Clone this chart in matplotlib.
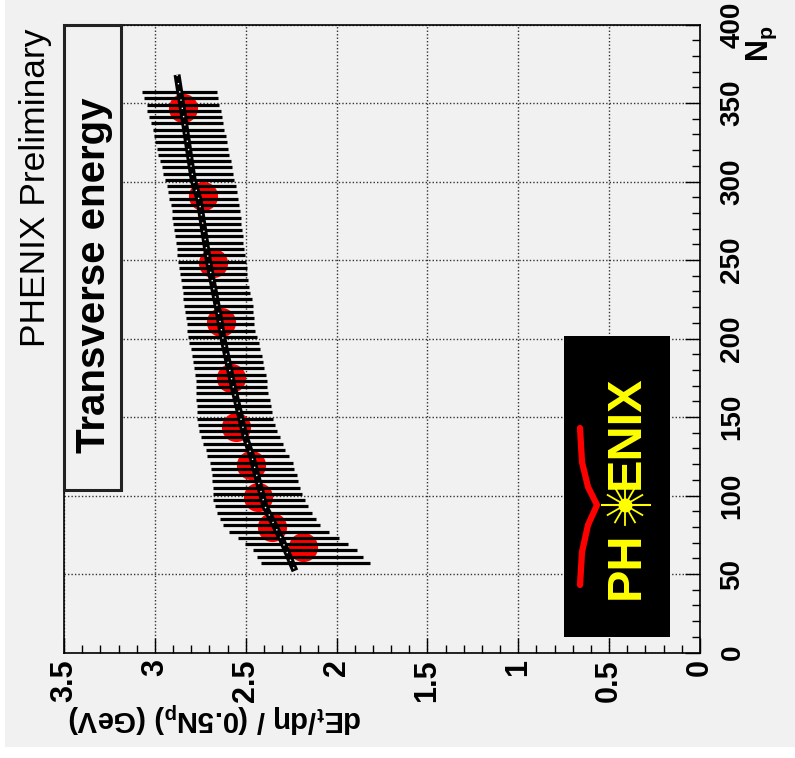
import matplotlib
matplotlib.use("Agg")
import matplotlib.pyplot as plt
from matplotlib.patches import Rectangle
from matplotlib.ticker import FixedLocator, MultipleLocator
import numpy as np

plt.rcParams['font.family'] = ['Liberation Sans', 'DejaVu Sans']
plt.rcParams['mathtext.fontset'] = 'custom'
plt.rcParams['mathtext.rm'] = 'Liberation Sans:bold'
plt.rcParams['mathtext.it'] = 'Liberation Sans:bold'
plt.rcParams['mathtext.bf'] = 'Liberation Sans:bold'
plt.rcParams['mathtext.default'] = 'regular'

# Dados ------------------------------------------

# pontos medidos (Np, dEt/deta / (0.5 Np))
np_pts = [346.6, 290.8, 247.9, 210.5, 174.6, 143.8, 119.4, 98.9, 79.7, 67.4]
et_pts = [2.844, 2.734, 2.679, 2.636, 2.583, 2.554, 2.471, 2.431, 2.357, 2.183]

# curva ajustada
fit_np = [368, 343, 301, 288, 250, 214, 201, 169, 138, 125, 93, 72, 52]
fit_et = [2.878, 2.844, 2.789, 2.756, 2.706, 2.646, 2.627, 2.568, 2.504, 2.467, 2.394, 2.302, 2.229]

# faixa de erro sistematico (linhas horizontais)
band_np = [357, 353, 349, 345, 341, 337, 333, 329, 325, 321,
           317, 313, 309, 305, 301, 297, 293, 289, 285, 281,
           277, 273, 269, 265, 261, 257, 253, 249, 245, 241,
           237, 233, 229, 225, 221, 217, 213, 209, 205, 201,
           197, 193, 189, 185, 181, 177, 173, 169, 165, 161,
           157, 153, 149, 145, 141, 137, 133, 129, 125, 121,
           117, 113, 109, 105, 101, 97, 93, 89, 85, 81,
           77, 73, 69, 65, 61, 57]
band_lo = [2.660, 2.653, 2.646, 2.638, 2.631, 2.624, 2.618, 2.610, 2.602, 2.596,
           2.591, 2.583, 2.577, 2.572, 2.565, 2.554, 2.546, 2.540, 2.535, 2.532,
           2.528, 2.526, 2.522, 2.517, 2.513, 2.510, 2.504, 2.499, 2.495, 2.491,
           2.486, 2.480, 2.477, 2.467, 2.462, 2.458, 2.455, 2.455, 2.449, 2.436,
           2.425, 2.422, 2.412, 2.407, 2.400, 2.389, 2.385, 2.381, 2.376, 2.367,
           2.363, 2.357, 2.348, 2.339, 2.326, 2.312, 2.293, 2.284, 2.260, 2.242,
           2.234, 2.220, 2.211, 2.201, 2.192, 2.174, 2.156, 2.137, 2.113, 2.091,
           2.040, 1.985, 1.936, 1.886, 1.853, 1.816]
band_hi = [3.073, 3.060, 3.045, 3.043, 3.032, 3.023, 3.012, 3.005, 2.999, 2.990,
           2.981, 2.972, 2.963, 2.954, 2.944, 2.935, 2.926, 2.921, 2.913, 2.908,
           2.906, 2.899, 2.895, 2.889, 2.884, 2.880, 2.877, 2.871, 2.866, 2.862,
           2.858, 2.853, 2.847, 2.844, 2.840, 2.834, 2.829, 2.825, 2.822, 2.816,
           2.811, 2.803, 2.797, 2.792, 2.785, 2.779, 2.774, 2.774, 2.774, 2.774,
           2.770, 2.770, 2.767, 2.761, 2.756, 2.748, 2.735, 2.719, 2.712, 2.697,
           2.693, 2.687, 2.687, 2.682, 2.682, 2.679, 2.669, 2.657, 2.642, 2.627,
           2.591, 2.541, 2.504, 2.462, 2.440, 2.418]

et_ticks = [0, 0.5, 1, 1.5, 2, 2.5, 3, 3.5]
et_labels = ['0', '0.5', '1', '1.5', '2', '2.5', '3', '3.5']
np_ticks = [0, 50, 100, 150, 200, 250, 300, 350, 400]
np_labels = ['0', '50', '100', '150', '200', '250', '300', '350', '400']

W, H = 795, 758
bg = '#f1f1f1'


def fx(px):
    return px / W


def fy(py):
    return 1 - py / H


# Figura ------------------------------------------

fig = plt.figure(figsize=(W / 100, H / 100), dpi=100, facecolor='white')
fig.patches.append(Rectangle((fx(5), fy(747)), 1, 1, transform=fig.transFigure,
                             facecolor=bg, edgecolor='none', zorder=-5))

ax = fig.add_axes([fx(64), fy(652.5), (700 - 64) / W, (652.5 - 24.5) / H], zorder=1)
ax.set_facecolor(bg)
ax.set_xlim(3.5, 0)
ax.set_ylim(0, 400)

ax.plot(et_pts, np_pts, 'o', color='red', markersize=21, markeredgewidth=0, zorder=2)
ax.hlines(band_np, band_lo, band_hi, color='black', linewidth=2.3, zorder=3)
ax.plot(fit_et, fit_np, color='black', linewidth=5, solid_capstyle='butt', zorder=4)
ax.plot(fit_et, fit_np, color='white', linewidth=1.0, linestyle=(0, (1, 5)), zorder=5)

# eixos
ax.xaxis.set_major_locator(FixedLocator(et_ticks))
ax.set_xticklabels(et_labels, rotation=90, fontsize=22, fontweight='bold')
ax.xaxis.set_minor_locator(MultipleLocator(0.1))
ax.yaxis.tick_right()
ax.yaxis.set_major_locator(FixedLocator(np_ticks))
ax.set_yticklabels(np_labels, rotation=90, fontsize=20, fontweight='bold', va='center')
ax.yaxis.set_minor_locator(MultipleLocator(10))
ax.tick_params(axis='x', which='both', direction='in', bottom=True, top=False, pad=5)
ax.tick_params(axis='y', which='both', direction='in', right=True, left=False, pad=14)
ax.tick_params(which='major', length=11, width=1)
ax.tick_params(which='minor', length=6, width=1)
ax.grid(True, which='major', color='#333333', linestyle=(0, (1, 1.5)), linewidth=1.0)
ax.set_axisbelow(True)
for s in ax.spines.values():
    s.set_linewidth(1.2)

# textos
fig.text(fx(68), fy(717), 'dE$_t$/dη / (0.5N$_p$) (GeV)', rotation=180,
         ha='left', va='center', fontsize=21, fontweight='bold')
fig.text(fx(762), fy(44), 'N$_p$', rotation=90, ha='center', va='center',
         fontsize=22, fontweight='bold')
fig.text(fx(36), fy(188), 'PHENIX Preliminary', rotation=90, ha='center',
         va='center', fontsize=25.5)
fig.patches.append(Rectangle((fx(64), fy(490)), (121 - 64) / W, (490 - 25) / H,
                             transform=fig.transFigure, facecolor=bg,
                             edgecolor='#222222', linewidth=2.2, zorder=2))
fig.text(fx(94), fy(275), 'Transverse energy', rotation=90, ha='center',
         va='center', fontsize=29, fontweight='bold', zorder=3)

# logo PHENIX
lg = fig.add_axes([fx(564), fy(637), (670 - 564) / W, (637 - 336) / H], zorder=6)
lg.set_xlim(0, 106)
lg.set_ylim(0, 301)
lg.set_facecolor('black')
lg.set_xticks([])
lg.set_yticks([])
for s in lg.spines.values():
    s.set_visible(False)
lg.plot([16, 18, 24, 33, 24, 18, 16], [209, 175, 150, 132, 112, 85, 52],
        color='red', linewidth=4.5, solid_capstyle='round')
lg.text(62, 72, 'PH', rotation=90, ha='center', va='center', color='#ffff00',
        fontsize=35, fontweight='bold')
lg.text(62, 205, 'ENIX', rotation=90, ha='center', va='center', color='#ffff00',
        fontsize=35, fontweight='bold')
lg.plot([38, 86], [132, 132], color='#ffff00', linewidth=1.5)
for a in np.deg2rad([30, 60, 90, 120, 150, 210, 240, 270, 300, 330]):
    lg.plot([61, 61 + 20 * np.cos(a)], [132, 132 + 20 * np.sin(a)],
            color='#ffff00', linewidth=1.3)
lg.plot([61], [132], 'o', color='#ffff00', markersize=9)

fig.savefig('out.png', dpi=100, facecolor=fig.get_facecolor())
